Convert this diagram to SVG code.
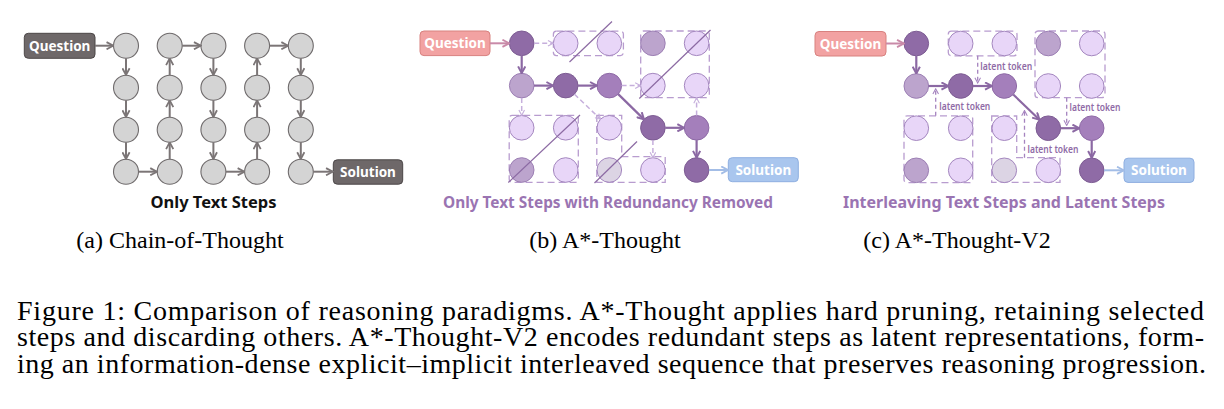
<svg xmlns="http://www.w3.org/2000/svg" width="1224" height="409" viewBox="0 0 1224 409">
<style>
.bg{fill:#ffffff}
.ga{fill:#d4d4d4;stroke:#6f6b6c;stroke-width:1.1}
.boxa{fill:#6e6869;stroke:#4b4647;stroke-width:1}
.d{fill:#8f6ba6;stroke:#7d5c93;stroke-width:1}
.m2{fill:#a47fbb;stroke:#8e6aa6;stroke-width:1}
.m{fill:#bca4cd;stroke:#9c7fb4;stroke-width:1}
.l{fill:#e8d6f8;stroke:#a487bf;stroke-width:1}
.g{fill:#dcd4e4;stroke:#a487bf;stroke-width:1}
.qbox{fill:#f2a2a2;stroke:#d8817f;stroke-width:1}
.sbox{fill:#a9c6ee;stroke:#8eaee0;stroke-width:1}
.btxt{font-family:"Noto Sans","DejaVu Sans",sans-serif;font-weight:bold;font-size:13.5px;fill:#ffffff;text-anchor:middle}
.ttl{font-family:"Noto Sans","DejaVu Sans",sans-serif;font-size:16px;font-weight:bold;text-anchor:middle}
.lat{font-family:"Noto Sans","DejaVu Sans",sans-serif;font-size:10px;font-weight:600;fill:#8f6ba6}
.arA{stroke:#7b7576;stroke-width:2;fill:none}
.arS{stroke:#8b68a3;stroke-width:2.2;fill:none}
.arD{stroke:#c6afdc;stroke-width:1.5;fill:none;stroke-dasharray:5 3}
.arL{stroke:#a583bf;stroke-width:1.3;fill:none;stroke-dasharray:4 3}
.arQ{stroke:#c98aa8;stroke-width:2;fill:none}
.arB{stroke:#a3bde6;stroke-width:2;fill:none}
.dbox{fill:none;stroke:#b89ccf;stroke-width:1.3;stroke-dasharray:7 4}
.slash{stroke:#8c6aa3;stroke-width:1.2;fill:none}
.sub{font-family:"Liberation Serif","Times New Roman",serif;font-size:24px;fill:#000000;text-anchor:middle}
.cap{font-family:"Liberation Serif","Times New Roman",serif;font-size:28px;fill:#000000}
</style>
<defs>
<marker id="mA" viewBox="0 0 10 10" refX="9" refY="5" markerWidth="9" markerHeight="9" markerUnits="userSpaceOnUse" orient="auto"><path d="M1.5,1 L9,5 L1.5,9" fill="none" stroke="#7b7576" stroke-width="2"/></marker>
<marker id="mS" viewBox="0 0 10 10" refX="9" refY="5" markerWidth="9" markerHeight="9" markerUnits="userSpaceOnUse" orient="auto"><path d="M1.5,1 L9,5 L1.5,9" fill="none" stroke="#8b68a3" stroke-width="2.2"/></marker>
<marker id="mD" viewBox="0 0 10 10" refX="9" refY="5" markerWidth="7" markerHeight="7" markerUnits="userSpaceOnUse" orient="auto"><path d="M1.5,1 L9,5 L1.5,9" fill="none" stroke="#c6afdc" stroke-width="1.6"/></marker>
<marker id="mL" viewBox="0 0 10 10" refX="9" refY="5" markerWidth="7" markerHeight="7" markerUnits="userSpaceOnUse" orient="auto"><path d="M1.5,1 L9,5 L1.5,9" fill="none" stroke="#a583bf" stroke-width="1.5"/></marker>
<marker id="mQ" viewBox="0 0 10 10" refX="9" refY="5" markerWidth="9" markerHeight="9" markerUnits="userSpaceOnUse" orient="auto"><path d="M1.5,1 L9,5 L1.5,9" fill="none" stroke="#c98aa8" stroke-width="2"/></marker>
<marker id="mB" viewBox="0 0 10 10" refX="9" refY="5" markerWidth="9" markerHeight="9" markerUnits="userSpaceOnUse" orient="auto"><path d="M1.5,1 L9,5 L1.5,9" fill="none" stroke="#a3bde6" stroke-width="2"/></marker>
</defs>
<rect class="bg" x="0" y="0" width="1224" height="409"/>

<!-- ============ Panel (a) ============ -->
<g id="panel-a">
<g id="a-question"><rect class="boxa" x="24.3" y="33.3" width="70.7" height="25" rx="4"/><text class="btxt" x="59.7" y="50.5">Question</text></g>
<g id="a-solution"><rect class="boxa" x="333.3" y="159.8" width="69.4" height="24.4" rx="4"/><text class="btxt" x="368" y="177">Solution</text></g>
<g id="a-nodes">
<circle class="ga" cx="126" cy="45.7" r="12.5"/><circle class="ga" cx="126" cy="87.7" r="12.5"/><circle class="ga" cx="126" cy="129.7" r="12.5"/><circle class="ga" cx="126" cy="171.7" r="12.5"/>
<circle class="ga" cx="169.7" cy="45.7" r="12.5"/><circle class="ga" cx="169.7" cy="87.7" r="12.5"/><circle class="ga" cx="169.7" cy="129.7" r="12.5"/><circle class="ga" cx="169.7" cy="171.7" r="12.5"/>
<circle class="ga" cx="213.4" cy="45.7" r="12.5"/><circle class="ga" cx="213.4" cy="87.7" r="12.5"/><circle class="ga" cx="213.4" cy="129.7" r="12.5"/><circle class="ga" cx="213.4" cy="171.7" r="12.5"/>
<circle class="ga" cx="257.1" cy="45.7" r="12.5"/><circle class="ga" cx="257.1" cy="87.7" r="12.5"/><circle class="ga" cx="257.1" cy="129.7" r="12.5"/><circle class="ga" cx="257.1" cy="171.7" r="12.5"/>
<circle class="ga" cx="300.8" cy="45.7" r="12.5"/><circle class="ga" cx="300.8" cy="87.7" r="12.5"/><circle class="ga" cx="300.8" cy="129.7" r="12.5"/><circle class="ga" cx="300.8" cy="171.7" r="12.5"/>
</g>
<g id="a-connectors">
<path class="arA" marker-end="url(#mA)" d="M95,45.7 H113.3"/>
<path class="arA" marker-end="url(#mA)" d="M126,58.2 V75"/>
<path class="arA" marker-end="url(#mA)" d="M126,100.2 V117"/>
<path class="arA" marker-end="url(#mA)" d="M126,142.2 V159"/>
<path class="arA" marker-end="url(#mA)" d="M138.5,171.7 H157"/>
<path class="arA" marker-end="url(#mA)" d="M169.7,159.2 V142.4"/>
<path class="arA" marker-end="url(#mA)" d="M169.7,117.2 V100.4"/>
<path class="arA" marker-end="url(#mA)" d="M169.7,75.2 V58.4"/>
<path class="arA" marker-end="url(#mA)" d="M182.2,45.7 H200.7"/>
<path class="arA" marker-end="url(#mA)" d="M213.4,58.2 V75"/>
<path class="arA" marker-end="url(#mA)" d="M213.4,100.2 V117"/>
<path class="arA" marker-end="url(#mA)" d="M213.4,142.2 V159"/>
<path class="arA" marker-end="url(#mA)" d="M225.9,171.7 H244.4"/>
<path class="arA" marker-end="url(#mA)" d="M257.1,159.2 V142.4"/>
<path class="arA" marker-end="url(#mA)" d="M257.1,117.2 V100.4"/>
<path class="arA" marker-end="url(#mA)" d="M257.1,75.2 V58.4"/>
<path class="arA" marker-end="url(#mA)" d="M269.6,45.7 H288.1"/>
<path class="arA" marker-end="url(#mA)" d="M300.8,58.2 V75"/>
<path class="arA" marker-end="url(#mA)" d="M300.8,100.2 V117"/>
<path class="arA" marker-end="url(#mA)" d="M300.8,142.2 V159"/>
<path class="arA" marker-end="url(#mA)" d="M313.3,171.7 H332.8"/>
</g>
<text class="ttl" x="213.5" y="208" fill="#111111" textLength="126" lengthAdjust="spacingAndGlyphs">Only Text Steps</text>
</g>

<!-- ============ Panel (b) ============ -->
<g id="panel-b">
<g id="b-groups">
<rect class="dbox" x="553.4" y="31.2" width="70" height="24.4" rx="3"/>
<rect class="dbox" x="640.7" y="31" width="68.6" height="66.7" rx="3"/>
<rect class="dbox" x="509.2" y="115.3" width="69.1" height="67" rx="3"/>
<path class="dbox" d="M596.8,115.3 H621.7 V156.7 H665.2 V182.3 H596.8 Z"/>
</g>
<g id="b-question"><rect class="qbox" x="420" y="31" width="70" height="24.6" rx="4"/><text class="btxt" x="455" y="48.2">Question</text></g>
<g id="b-solution"><rect class="sbox" x="728.3" y="157.7" width="70" height="24" rx="4"/><text class="btxt" x="763.3" y="174.7">Solution</text></g>
<g id="b-nodes">
<circle class="d" cx="521.7" cy="43.3" r="12.3"/><circle class="l" cx="565.7" cy="43.3" r="12.3"/><circle class="l" cx="609.3" cy="43.3" r="12.3"/><circle class="m" cx="652.9" cy="43.3" r="12.3"/><circle class="l" cx="696.6" cy="43.3" r="12.3"/>
<circle class="m" cx="521.7" cy="85.6" r="12.3"/><circle class="d" cx="565.7" cy="85.6" r="12.3"/><circle class="m2" cx="609.3" cy="85.6" r="12.3"/><circle class="l" cx="652.9" cy="85.6" r="12.3"/><circle class="l" cx="696.6" cy="85.6" r="12.3"/>
<circle class="l" cx="521.7" cy="127.8" r="12.3"/><circle class="l" cx="565.7" cy="127.8" r="12.3"/><circle class="l" cx="609.3" cy="127.8" r="12.3"/><circle class="d" cx="652.9" cy="127.8" r="12.3"/><circle class="m2" cx="696.6" cy="127.8" r="12.3"/>
<circle class="m" cx="521.7" cy="170" r="12.3"/><circle class="l" cx="565.7" cy="170" r="12.3"/><circle class="g" cx="609.3" cy="170" r="12.3"/><circle class="l" cx="652.9" cy="170" r="12.3"/><circle class="d" cx="696.6" cy="170" r="12.3"/>
</g>
<g id="b-slashes">
<line class="slash" x1="569.5" y1="62" x2="612" y2="21.5"/>
<line class="slash" x1="639.3" y1="98.5" x2="710.5" y2="30"/>
<line class="slash" x1="508.3" y1="182.5" x2="580" y2="115"/>
<line class="slash" x1="594.5" y1="183" x2="637" y2="141.5"/>
</g>
<g id="b-connectors">
<path class="arQ" marker-end="url(#mQ)" d="M490,43.3 H509.2"/>
<path class="arD" marker-end="url(#mD)" d="M534.2,43.3 H553.2"/>
<path class="arS" marker-end="url(#mS)" d="M521.7,55.6 V73.1"/>
<path class="arS" marker-end="url(#mS)" d="M534,85.6 H553.2"/>
<path class="arS" marker-end="url(#mS)" d="M578,85.6 H596.8"/>
<path class="arD" marker-end="url(#mD)" d="M621.6,85.6 H640.4"/>
<path class="arD" marker-end="url(#mD)" d="M521.7,97.9 V115.3"/>
<path class="arD" marker-end="url(#mD)" d="M574.5,94.2 L600.6,119.3"/>
<path class="arS" marker-end="url(#mS)" d="M618.2,94.1 L644,119.4"/>
<path class="arS" marker-end="url(#mS)" d="M665.2,127.8 H684.1"/>
<path class="arD" marker-end="url(#mD)" d="M696.6,115.5 V98"/>
<path class="arD" marker-end="url(#mD)" d="M652.9,140.1 V157.6"/>
<path class="arS" marker-end="url(#mS)" d="M696.6,140.1 V157.6"/>
<path class="arB" marker-end="url(#mB)" d="M709,170 H728"/>
</g>
<text class="ttl" x="608" y="208" fill="#9a74b2" font-weight="600" textLength="330" lengthAdjust="spacingAndGlyphs">Only Text Steps with Redundancy Removed</text>
</g>

<!-- ============ Panel (c) ============ -->
<g id="panel-c">
<g id="c-groups">
<rect class="dbox" x="948.3" y="31.2" width="68.7" height="24.6" rx="3"/>
<rect class="dbox" x="1035" y="31" width="70" height="66.7" rx="3"/>
<rect class="dbox" x="904" y="115.8" width="68.7" height="66.9" rx="3"/>
<path class="dbox" d="M991.7,116 H1016.7 V157.7 H1060 V182.3 H991.7 Z"/>
</g>
<g id="c-question"><rect class="qbox" x="815" y="31.5" width="71" height="24.5" rx="4"/><text class="btxt" x="850.5" y="48.5">Question</text></g>
<g id="c-solution"><rect class="sbox" x="1124" y="158.2" width="70" height="24.2" rx="4"/><text class="btxt" x="1159" y="175.2">Solution</text></g>
<g id="c-nodes">
<circle class="d" cx="916.3" cy="43.5" r="12.3"/><circle class="l" cx="960.7" cy="43.5" r="12.3"/><circle class="l" cx="1004.3" cy="43.5" r="12.3"/><circle class="m" cx="1048.3" cy="43.5" r="12.3"/><circle class="l" cx="1091.7" cy="43.5" r="12.3"/>
<circle class="m" cx="916.3" cy="86" r="12.3"/><circle class="d" cx="960.7" cy="86" r="12.3"/><circle class="m2" cx="1004.3" cy="86" r="12.3"/><circle class="l" cx="1048.3" cy="86" r="12.3"/><circle class="l" cx="1091.7" cy="86" r="12.3"/>
<circle class="l" cx="916.3" cy="128.2" r="12.3"/><circle class="l" cx="960.7" cy="128.2" r="12.3"/><circle class="l" cx="1004.3" cy="128.2" r="12.3"/><circle class="d" cx="1048.3" cy="128.2" r="12.3"/><circle class="m2" cx="1091.7" cy="128.2" r="12.3"/>
<circle class="m" cx="916.3" cy="170.3" r="12.3"/><circle class="l" cx="960.7" cy="170.3" r="12.3"/><circle class="g" cx="1004.3" cy="170.3" r="12.3"/><circle class="l" cx="1048.3" cy="170.3" r="12.3"/><circle class="d" cx="1091.7" cy="170.3" r="12.3"/>
</g>
<g id="c-connectors">
<path class="arQ" marker-end="url(#mQ)" d="M886,43.5 H903.8"/>
<path class="arS" marker-end="url(#mS)" d="M916.3,55.8 V73.5"/>
<path class="arS" marker-end="url(#mS)" d="M928.6,86 H948.2"/>
<path class="arS" marker-end="url(#mS)" d="M973,86 H991.8"/>
<path class="arS" marker-end="url(#mS)" d="M1013.2,94.5 L1039.5,119.7"/>
<path class="arS" marker-end="url(#mS)" d="M1060.6,128.2 H1079.2"/>
<path class="arS" marker-end="url(#mS)" d="M1091.7,140.5 V157.8"/>
<path class="arB" marker-end="url(#mB)" d="M1104,170.3 H1123.8"/>
<path class="arL" marker-end="url(#mL)" d="M977.7,55.8 V83"/>
<path class="arL" marker-end="url(#mL)" d="M1066.7,97.7 V125.5"/>
<path class="arL" marker-end="url(#mL)" d="M935.7,115.8 V88.8"/>
<path class="arL" marker-end="url(#mL)" d="M1024.5,157.7 V110.5"/>
</g>
<g id="c-labels">
<text class="lat" x="980.3" y="69.5" textLength="52" lengthAdjust="spacingAndGlyphs">latent token</text>
<text class="lat" x="1069.5" y="111.2" textLength="51" lengthAdjust="spacingAndGlyphs">latent token</text>
<text class="lat" x="939.3" y="110.2" textLength="51" lengthAdjust="spacingAndGlyphs">latent token</text>
<text class="lat" x="1027.5" y="153.2" textLength="51" lengthAdjust="spacingAndGlyphs">latent token</text>
</g>
<text class="ttl" x="1004" y="208" fill="#9a74b2" font-weight="600" textLength="322" lengthAdjust="spacingAndGlyphs">Interleaving Text Steps and Latent Steps</text>
</g>

<!-- ============ Captions ============ -->
<g id="captions">
<text class="sub" x="180" y="248">(a) Chain-of-Thought</text>
<text class="sub" x="605" y="248">(b) A*-Thought</text>
<text class="sub" x="957" y="248">(c) A*-Thought-V2</text>
<text class="cap" x="17" y="319.5" textLength="1187" lengthAdjust="spacing">Figure 1: Comparison of reasoning paradigms. A*-Thought applies hard pruning, retaining selected</text>
<text class="cap" x="17" y="346" textLength="1187" lengthAdjust="spacing">steps and discarding others. A*-Thought-V2 encodes redundant steps as latent representations, form-</text>
<text class="cap" x="17" y="372.5" textLength="1189" lengthAdjust="spacing">ing an information-dense explicit–implicit interleaved sequence that preserves reasoning progression.</text>
</g>
</svg>
